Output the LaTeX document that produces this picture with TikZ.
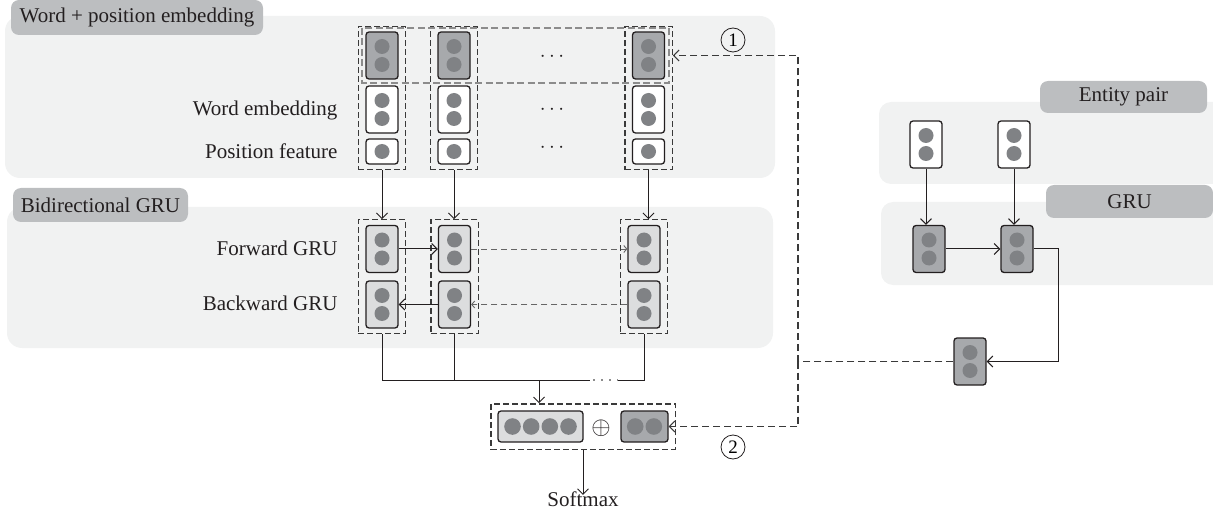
\documentclass[tikz,border=0pt]{standalone}
\usepackage{fontspec}
\setmainfont{Liberation Serif}
\usetikzlibrary{arrows.meta,fit,calc}
\definecolor{panelc}{HTML}{F1F2F2}
\definecolor{labc}{HTML}{BCBEC0}
\definecolor{darkc}{HTML}{A7A9AC}
\definecolor{lightc}{HTML}{DCDDDE}
\definecolor{dotc}{HTML}{808285}
\definecolor{edgec}{HTML}{231F20}
\definecolor{txtc}{HTML}{231F20}
\definecolor{dashc}{HTML}{3A3A3A}
\tikzset{
  panel/.style={fill=panelc, rounded corners=15pt},
  lab/.style={fill=labc, rounded corners=8pt, inner sep=0pt, text=txtc},
  cellbase/.style={draw=edgec, line width=1.3pt, rounded corners=3pt, inner sep=0pt, minimum width=32pt},
  twodot/.style={cellbase, minimum height=47pt,
    path picture={\fill[dotc] ([yshift=9pt]path picture bounding box.center) circle (7.5pt);
                  \fill[dotc] ([yshift=-9pt]path picture bounding box.center) circle (7.5pt);}},
  onedot/.style={cellbase, minimum height=25pt,
    path picture={\fill[dotc] (path picture bounding box.center) circle (7.5pt);}},
  darkcell/.style={twodot, fill=darkc},
  whitecell/.style={twodot, fill=white},
  lightcell/.style={twodot, fill=lightc},
  poscell/.style={onedot, fill=white},
  fourcell/.style={cellbase, fill=lightc, minimum width=85pt, minimum height=31pt,
    path picture={\foreach \dx in {-28,-9.33,9.33,28}{\fill[dotc] ([xshift=\dx pt]path picture bounding box.center) circle (8.3pt);}}},
  pairtwo/.style={cellbase, fill=darkc, minimum width=47pt, minimum height=31pt,
    path picture={\foreach \dx in {-9.3,9.3}{\fill[dotc] ([xshift=\dx pt]path picture bounding box.center) circle (8.3pt);}}},
  colbox/.style={draw=dashc, line width=1.3pt, dash pattern=on 6pt off 3pt, inner xsep=7pt, inner ysep=5pt},
  graybox/.style={draw=black!45, line width=1.2pt, dash pattern=on 7pt off 3.5pt},
  arr/.style={draw=edgec, line width=1pt, -{Straight Barb[length=5.5pt,width=11pt]}},
  plain/.style={draw=edgec, line width=1pt},
  gdash/.style={draw=black!60, line width=0.9pt, dash pattern=on 6pt off 4pt, -{Straight Barb[length=3pt,width=7pt]}},
  bigdash/.style={draw=dashc, line width=1.1pt, dash pattern=on 7pt off 4pt},
  circnum/.style={circle, draw=edgec, line width=0.8pt, inner sep=1.2pt, minimum size=24pt, font=\fontsize{19}{20}\selectfont},
  side/.style={anchor=east, text=txtc}
}
\begin{document}
\begin{tikzpicture}[x=1pt, y=-1pt, font=\fontsize{21}{25}\selectfont]
\useasboundingbox (0,0) rectangle (1213,513);

% panels
\fill[panel] (5,16) rectangle (775,178);
\fill[panel] (7,207) rectangle (773,348);
\fill[panel, rounded corners=12pt] (879,102) rectangle (1240,184);
\fill[panel, rounded corners=12pt] (881,202) rectangle (1240,285);

% panel labels
\node[lab, minimum width=252pt, minimum height=35pt] (L1) at (137,17.5) {Word + position embedding};
\node[lab, minimum width=175pt, minimum height=34pt] (L2) at (100.5,205) {Bidirectional GRU};
\node[lab, minimum width=167pt, minimum height=32pt] (L3) at (1123.5,97) {Entity pair};
\node[lab, minimum width=167pt, minimum height=33pt] (L4) at (1129.5,201.5) {GRU};

% side texts
\node[side] (tw) at (341,110) {Word embedding};
\node[side] (tp) at (341,151) {Position feature};
\node[side] (tf) at (341,248) {Forward GRU};
\node[side] (tb) at (341,303) {Backward GRU};

% embedding columns
\node[darkcell] (t1) at (382,55.5) {};
\node[whitecell] (w1) at (382,109.5) {};
\node[poscell] (p1) at (382,151.5) {};
\node[darkcell] (t2) at (454,55.5) {};
\node[whitecell] (w2) at (454,109.5) {};
\node[poscell] (p2) at (454,151.5) {};
\node[darkcell] (t3) at (648.5,55.5) {};
\node[whitecell] (w3) at (648.5,109.5) {};
\node[poscell] (p3) at (648.5,151.5) {};
\node[colbox, fit=(t1)(p1)] (dc1) {};
\node[colbox, fit=(t2)(p2)] (dc2) {};
\node[colbox, fit=(t3)(p3)] (dc3) {};
\draw[graybox] (362,28) rectangle (669,83);
\node[text=txtc] (e1dots) at (552,57) {$\cdots$};
\node[text=txtc] (e2dots) at (552,110) {$\cdots$};
\node[text=txtc] (e3dots) at (552,148) {$\cdots$};

% GRU columns
\node[lightcell] (f1) at (382,249) {};
\node[lightcell] (b1) at (382,304.5) {};
\node[lightcell] (f2) at (454.5,249) {};
\node[lightcell] (b2) at (454.5,304.5) {};
\node[lightcell] (f3) at (644,249) {};
\node[lightcell] (b3) at (644,304.5) {};
\node[colbox, fit=(f1)(b1)] (gc1) {};
\node[colbox, fit=(f2)(b2)] (gc2) {};
\node[colbox, fit=(f3)(b3)] (gc3) {};

\draw[arr] (dc1.south) -- (dc1.south |- gc1.north);
\draw[arr] (dc2.south) -- (dc2.south |- gc2.north);
\draw[arr] (dc3.south) -- (dc3.south |- gc3.north);

\draw[arr] (f1) -- (f2);
\draw[gdash] (f2) -- (f3);
\draw[arr] (b2) -- (b1);
\draw[gdash] (b3) -- (b2);

% merge lines
\coordinate (j1) at (590,380);
\coordinate (j2) at (618,380);
\coordinate (m) at (539,380);
\draw[plain] (gc1.south) |- (j1);
\draw[plain] (gc2.south) -- (gc2.south |- j1);
\draw[plain] (gc3.south) |- (j2);
\draw[draw=black!45, line width=1.3pt, dash pattern=on 1.6pt off 6.4pt, dash phase=-3pt] (j1) -- (j2);

% concatenation
\node[fourcell] (cA) at (540.5,426.5) {};
\node[pairtwo] (cB) at (644.5,426.5) {};
\node[text=txtc, font=\fontsize{25}{26}\selectfont] (op) at (601,428) {$\oplus$};
\node[colbox, inner xsep=6.5pt, inner ysep=6.5pt, fit=(cA)(cB)] (cc) {};
\draw[arr] (m) -- (m |- cc.north);
\node[text=txtc] (sm) at (583,499) {Softmax};
\draw[arr] (sm.north |- cc.south) -- ([yshift=-7pt]sm.north);

% right part
\node[whitecell] (e1) at (926,144.5) {};
\node[whitecell] (e2) at (1014,144.5) {};
\node[darkcell] (r1) at (929,249) {};
\node[darkcell] (r2) at (1017,249) {};
\node[darkcell] (r3) at (970,361.5) {};
\draw[arr] (e1.south) -- (e1.south |- r1.north);
\draw[arr] (e2.south) -- (e2.south |- r2.north);
\draw[arr] (r1) -- (r2);
\coordinate (k) at (1058,0);
\draw[arr] (r2.east) -- (r2.east -| k) |- (r3.east);

% dashed feedback
\coordinate (v) at (798,0);
\draw[bigdash] (r3.west) -- (r3.west -| v);
\draw[bigdash, -{Straight Barb[length=5.5pt,width=11pt]}] (r3.west -| v) -- (v |- t3) -- (t3 -| dc3.east);
\draw[bigdash, -{Straight Barb[length=5.5pt,width=11pt]}] (r3.west -| v) -- (v |- cB) -- (cB.east);

\node[circnum] (n1) at (733,40) {1};
\node[circnum] (n2) at (733,447) {2};
\end{tikzpicture}
\end{document}
